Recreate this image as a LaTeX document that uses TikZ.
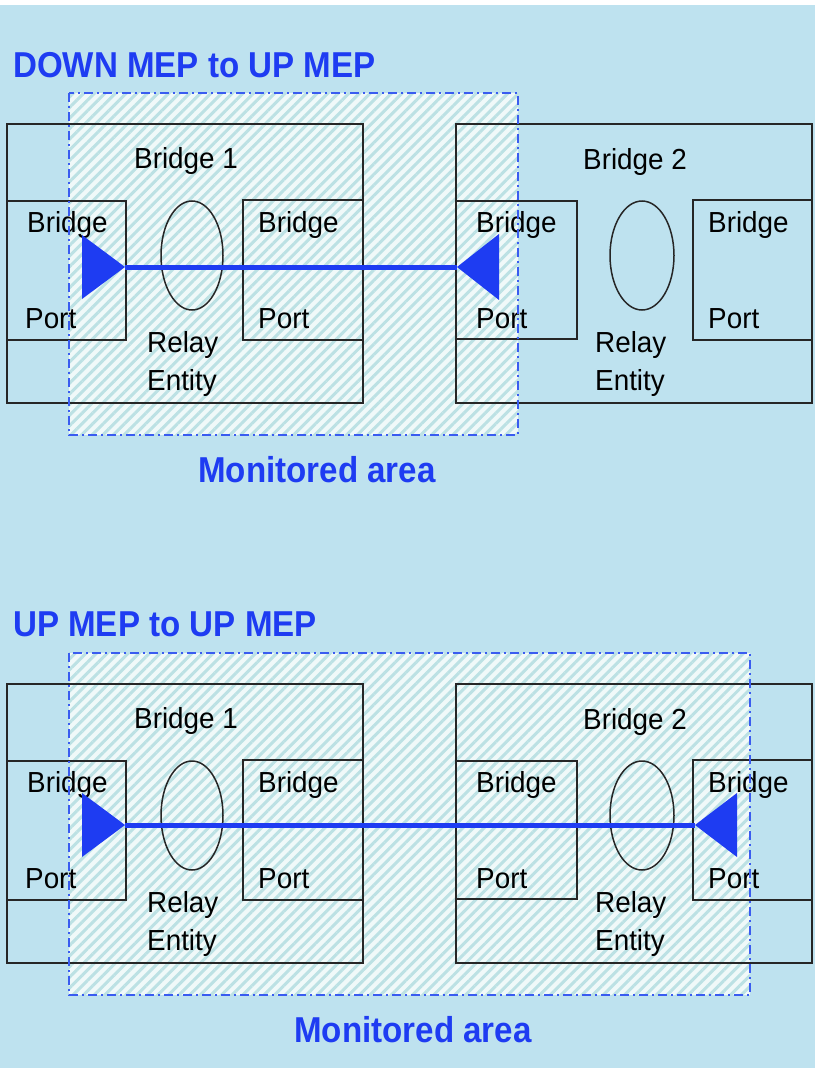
\documentclass[tikz,border=0pt]{standalone}
\usepackage{fontspec}
\setmainfont{Liberation Sans}
\usetikzlibrary{patterns.meta}
\definecolor{bg}{HTML}{BEE2EF}
\definecolor{mblue}{HTML}{1E3CF2}
\definecolor{dblue}{HTML}{3A5CF0}
\definecolor{hatchbg}{HTML}{F0F9F9}
\definecolor{hatchln}{HTML}{BCE1E4}
\definecolor{boxc}{HTML}{262626}
\tikzset{
  box/.style={draw=boxc, line width=2.2pt},
  rel/.style={draw=boxc, line width=1.5pt},
  lbl/.style={anchor=base west, inner sep=0pt, font=\fontsize{29}{32}\selectfont, text=black},
  ttl/.style={anchor=base west, inner sep=0pt, font=\fontsize{36}{40}\selectfont\bfseries, text=mblue},
  monc/.style={anchor=base, inner sep=0pt, font=\fontsize{36}{40}\selectfont\bfseries, text=mblue},
  hatchfill/.style={fill=hatchbg},
  hatchlines/.style={pattern={Lines[angle=45,distance=7.5pt,line width=3pt]}, pattern color=hatchln},
  monborder/.style={draw=dblue, line width=1.8pt, dash pattern=on 9pt off 4pt on 2pt off 4pt},
  mep/.style={fill=mblue},
  link/.style={draw=mblue, line width=5pt},
}
\newcommand\sq[1]{\scalebox{0.96}[1]{#1}}
\newcommand\sqb[1]{\scalebox{0.92}[1]{#1}}
\newcommand\twobridges[1]{%
  \draw[box] (7,124) rectangle (363,403);
  \draw[box] (456,124) rectangle (812,403);
  \draw[box] (7,201) rectangle (126,340);
  \draw[box] (243,200) rectangle (363,340);
  \draw[box] (456,201) rectangle (577,339);
  \draw[box] (693,200) rectangle (812,340);
  \draw[rel] (192,255.5) ellipse [x radius=31, y radius=54.5];
  \draw[rel] (642,255.5) ellipse [x radius=32, y radius=54.5];
  \node[lbl] (bA#1) at (134,168) {\sq{Bridge 1}};
  \node[lbl] (bB#1) at (583,169) {\sq{Bridge 2}};
  \node[lbl] (p1b#1) at (27,232) {\sq{Bridge}};
  \node[lbl] (p1p#1) at (25,328) {\sq{Port}};
  \node[lbl] (p2b#1) at (258,232) {\sq{Bridge}};
  \node[lbl] (p2p#1) at (258,328) {\sq{Port}};
  \node[lbl] (p3b#1) at (476,232) {\sq{Bridge}};
  \node[lbl] (p3p#1) at (476,328) {\sq{Port}};
  \node[lbl] (p4b#1) at (708,232) {\sq{Bridge}};
  \node[lbl] (p4p#1) at (708,328) {\sq{Port}};
  \node[lbl] (r1#1) at (147,352) {\sq{Relay}};
  \node[lbl] (e1#1) at (147,390) {\sq{Entity}};
  \node[lbl] (r2#1) at (595,352) {\sq{Relay}};
  \node[lbl] (e2#1) at (595,390) {\sq{Entity}};
}
\begin{document}
\begin{tikzpicture}[x=1pt,y=-1pt]
  \useasboundingbox (0,0) rectangle (815,1068);
  \fill[bg] (0,0) rectangle (815,1068);
  \fill[white] (0,0) rectangle (815,5);

  % ---------- top: DOWN MEP to UP MEP ----------
  \node[ttl] (t1) at (13,77) {\sqb{DOWN MEP to UP MEP}};
  \path[hatchfill] (69,93) rectangle (518,435);
  \path[hatchlines] (69,93) rectangle (518,435);
  \twobridges{x}
  \draw[monborder] (69,93) rectangle (518,435);
  \node[monc] (m1) at (317,482) {\sqb{Monitored area}};
  \coordinate (a1) at (125,267);
  \coordinate (a2) at (457,267);
  \draw[link] (a1) -- (a2);
  \fill[mep] (82,235) -- (82,299) -- (a1) -- cycle;
  \fill[mep] (499,234) -- (499,300) -- (a2) -- cycle;

  % ---------- bottom: UP MEP to UP MEP ----------
  \node[ttl] (t2) at (13,636) {\sqb{UP MEP to UP MEP}};
  \path[hatchfill] (69,653) rectangle (750,995);
  \path[hatchlines] (69,653) rectangle (750,995);
  \begin{scope}[yshift=-560pt]
    \twobridges{y}
  \end{scope}
  \draw[monborder] (69,653) rectangle (750,995);
  \node[monc] (m2) at (413,1042) {\sqb{Monitored area}};
  \coordinate (b1) at (125,825);
  \coordinate (b2) at (695,825);
  \draw[link] (b1) -- (b2);
  \fill[mep] (82,793) -- (82,857) -- (b1) -- cycle;
  \fill[mep] (737,793) -- (737,857) -- (b2) -- cycle;
\end{tikzpicture}
\end{document}
